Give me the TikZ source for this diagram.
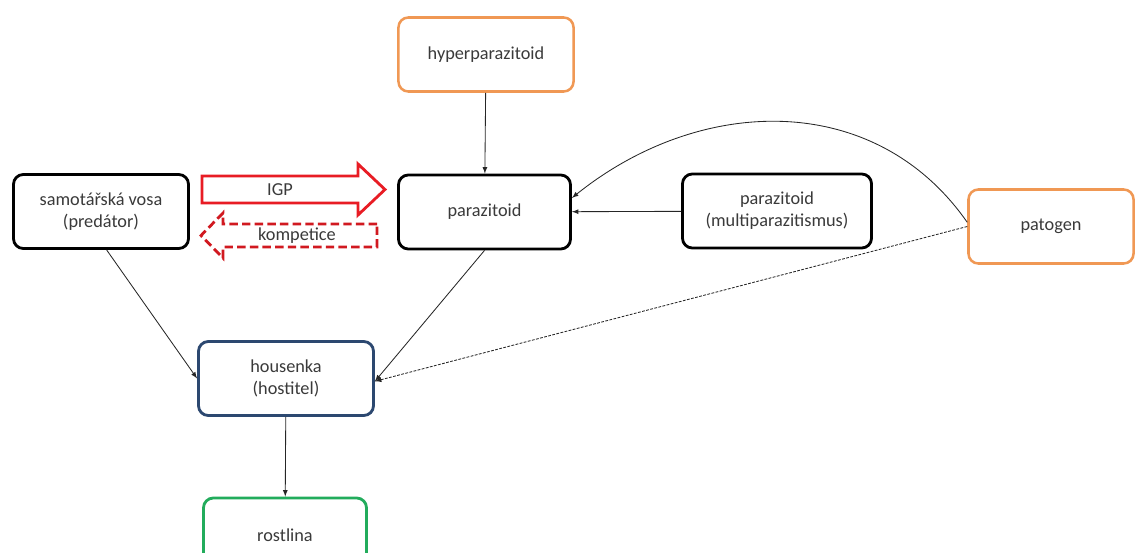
\documentclass[tikz,border=0pt]{standalone}
\usepackage{fontspec}
\setmainfont{Carlito}
\usetikzlibrary{shapes,arrows,positioning}
\definecolor{boxorange}{RGB}{240,152,84}
\definecolor{boxblue}{RGB}{44,72,112}
\definecolor{boxgreen}{RGB}{34,172,92}
\definecolor{igpred}{RGB}{232,28,36}
\definecolor{textgray}{RGB}{58,58,58}
\tikzset{
    % food web boxes
    species/.style={
        rectangle, draw=black, line width=2pt, fill=white,
        minimum width=4.375cm, minimum height=1.85cm,
        rounded corners=7pt, align=center, text=textgray,
        font=\fontsize{13}{15.5}\selectfont
    },
    enemybox/.style={species, draw=boxorange, line width=1.8pt},
    hostbox/.style={species, draw=boxblue},
    plantbox/.style={species, draw=boxgreen},
    % connectors
    link/.style={->, >=latex, black!85, line width=0.6pt},
    weaklink/.style={link, dash pattern=on 2pt off 1pt},
    % interaction arrows
    igparrow/.style={draw=igpred, line width=2pt, fill=white},
    kompetarrow/.style={draw=igpred!90!black, line width=2pt, fill=white,
        dash pattern=on 6pt off 3pt},
    arrowlabel/.style={text=textgray, font=\fontsize{13}{15.5}\selectfont}
}
\begin{document}
\begin{tikzpicture}[x=0.025cm, y=-0.025cm]
\useasboundingbox (0,0) rectangle (1136,552);

% Top level
\node[enemybox] (hyper) at (486,54.5) {hyperparazitoid};

% Middle row
\node[species] (samotar) at (101,211.5) {samotářská vosa\\(predátor)};
\node[species, minimum width=4.3cm] (parazitoid) at (484.5,212) {parazitoid};
\node[species, minimum width=4.725cm] (multipar) at (777,211) {parazitoid\\(multiparazitismus)};
\node[enemybox, minimum width=4.125cm] (patogen) at (1051,226.5) {patogen};

% Host and plant
\node[hostbox] (housenka) at (286,378.5) {housenka\\(hostitel)};
\node[plantbox, minimum width=4.075cm] (rostlina) at (285,535) {rostlina};

% IGP and competition arrows
\draw[igparrow] (202,176) -- (358,176) -- (358,164) -- (385,189.5)
    -- (358,215) -- (358,203) -- (202,203) -- cycle;
\node[arrowlabel] (igp) at (280,189.5) {IGP};
\draw[kompetarrow] (377,224) -- (223,224) -- (223,213) -- (201,235.5)
    -- (223,258) -- (223,247) -- (377,247) -- cycle;
\node[arrowlabel] (kompetice) at (297,235.5) {kompetice};

% Trophic links
\draw[link] (hyper) -- (parazitoid);
\draw[link] (multipar) -- (parazitoid);
\draw[link] ([xshift=4pt]samotar.south) -- (housenka.west);
\draw[link] (parazitoid.south) -- ([yshift=-2pt]housenka.east);
\draw[link] (housenka) -- (rostlina);
\draw[link] ([yshift=3pt]patogen.west) .. controls (875,90) and (700,95) .. ([yshift=10pt]parazitoid.east);
\draw[weaklink] (patogen.west) -- ([yshift=-2pt]housenka.east);

\end{tikzpicture}
\end{document}
